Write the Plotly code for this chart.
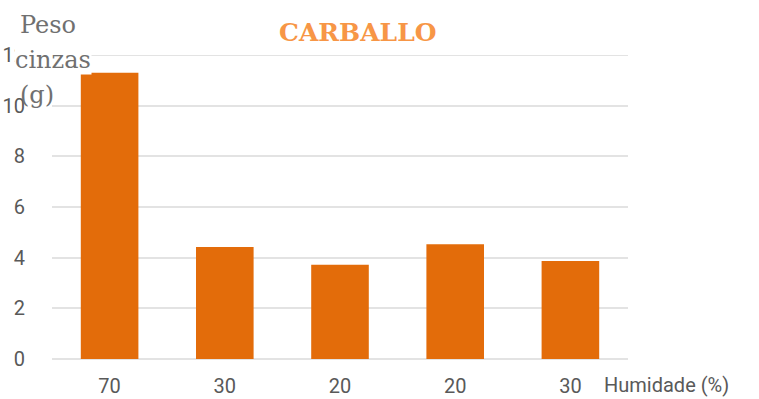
import plotly.graph_objects as go

humidity_labels = ["70", "30", "20", "20", "30"]
ash_weight = [11.3, 4.42, 3.72, 4.53, 3.87]
y_ticks = [0, 2, 4, 6, 8, 10, 12]

x_pos = list(range(len(humidity_labels)))

fig = go.Figure(go.Bar(
    x=x_pos, y=ash_weight,
    marker=dict(color="#E36C0A", line=dict(width=0)),
))

tick_font = dict(family="Roboto", size=20, color="#595959")
serif = "DejaVu Serif, Liberation Serif, serif"

L, R, T, B = 52, 131, 55, 40
pw, ph = 759 - L - R, 399 - T - B

def px(x):
    return (x - L) / pw

def py(y):
    return (399 - y - B) / ph

fig.update_layout(
    width=759, height=399,
    margin=dict(l=L, r=R, t=T, b=B),
    paper_bgcolor="white", plot_bgcolor="white",
    showlegend=False,
    bargap=0.5,
    xaxis=dict(
        tickvals=x_pos, ticktext=humidity_labels,
        range=[-0.5, len(x_pos) - 0.5], automargin=False,
        showgrid=False, zeroline=False, showline=False,
        tickfont=tick_font, ticks="", ticklabelstandoff=13,
    ),
    yaxis=dict(
        range=[0, 12], tickvals=y_ticks, automargin=False,
        showgrid=True, gridcolor="#E3E3E3", gridwidth=2,
        zeroline=True, zerolinecolor="#E3E3E3", zerolinewidth=2,
        showline=False,
        tickfont=tick_font, ticks="", ticklabelstandoff=26,
    ),
    shapes=[dict(type="line", xref="paper", yref="y", x0=0, x1=1, y0=12, y1=12,
                 line=dict(color="#E3E3E3", width=2), layer="below")],
    annotations=[
        dict(text="<b>CARBALLO</b>", x=px(358), y=py(33), xref="paper", yref="paper",
             showarrow=False, font=dict(family=serif, size=25, color="#F79646"),
             xanchor="center", yanchor="middle"),
        dict(text="Peso", x=px(18), y=py(25), xref="paper", yref="paper", showarrow=False,
             font=dict(family=serif, size=24, color="#707070"), xanchor="left", yanchor="middle"),
        dict(text="cinzas", x=px(14), y=py(60), xref="paper", yref="paper", showarrow=False,
             bgcolor="white", borderpad=0,
             font=dict(family=serif, size=24, color="#707070"), xanchor="left", yanchor="middle"),
        dict(text="(g)", x=px(18), y=py(95), xref="paper", yref="paper", showarrow=False,
             font=dict(family=serif, size=24, color="#707070"), xanchor="left", yanchor="middle"),
        dict(text="Humidade (%)", x=px(602), y=py(385), xref="paper", yref="paper", showarrow=False,
             font=tick_font, xanchor="left", yanchor="middle"),
    ],
)

fig.write_html("out.html")
